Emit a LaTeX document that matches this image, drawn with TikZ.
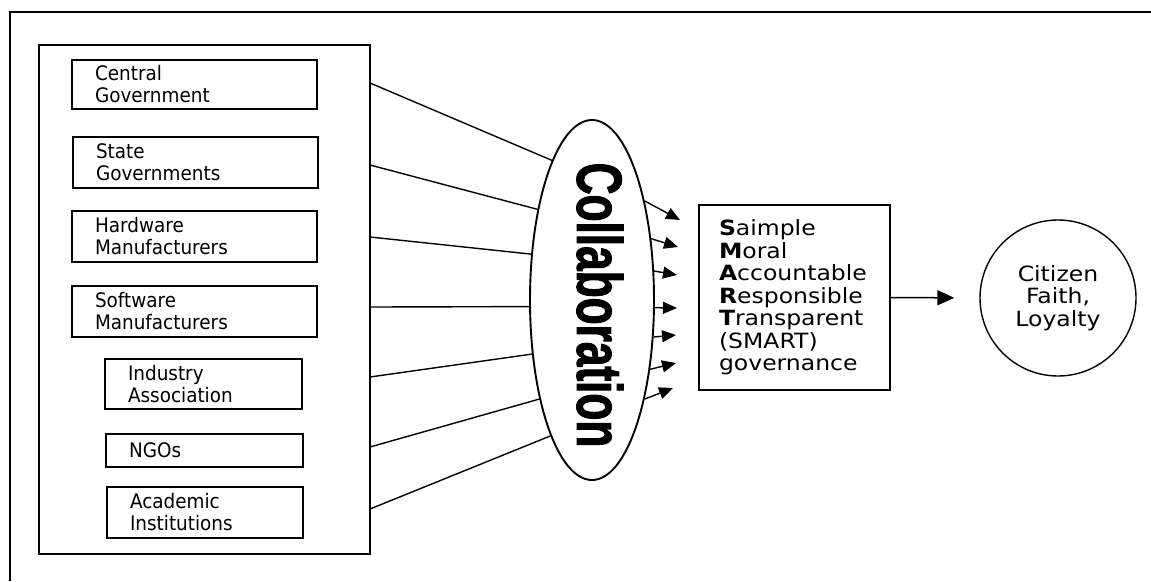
\documentclass[tikz,border=0pt]{standalone}
\usepackage{fontspec}
\usetikzlibrary{shapes.geometric,arrows.meta}
\newfontfamily\boxfont[FakeStretch=0.92]{DejaVu Sans}
\newfontfamily\smartfont[FakeStretch=1.12]{DejaVu Sans}
\newfontfamily\collabfont[FakeStretch=0.69,FakeBold=1.5]{Liberation Sans}
\begin{document}
\begin{tikzpicture}[x=1pt,y=-1pt,
  frameline/.style={line width=1.5pt},
  actor/.style={draw, line width=1.4pt, rectangle, inner xsep=23pt, inner ysep=0pt,
    align=left, font=\boxfont\fontsize{20}{22}\selectfont},
  link/.style={line width=1.4pt},
  smallarrow/.style={line width=1.4pt, -{Triangle[length=14pt,width=12pt]}},
  bigarrow/.style={line width=1.5pt, -{Triangle[length=17pt,width=15pt]}},
  smarttext/.style={font=\smartfont\fontsize{21}{22.5}\selectfont}
]
\useasboundingbox (0,0) rectangle (1151,581);
% outer frame (top and left)
\draw[frameline] (1151,12) -- (10,12) -- (10,581);
% panel
\node[draw, line width=1.5pt, minimum width=331pt, minimum height=509pt, inner sep=0pt] (panel) at (204.5,299.5) {};
\node[actor, minimum height=49pt, text width=199pt] (b1) at (194.5,84.5) {Central\\Government};
\node[actor, minimum height=51pt, text width=199pt] (b2) at (195.5,162.5) {State\\Governments};
\node[actor, minimum height=51pt, text width=199pt] (b3) at (194.5,236.5) {Hardware\\Manufacturers};
\node[actor, minimum height=51pt, text width=199pt] (b4) at (194.5,311.5) {Software\\Manufacturers};
\node[actor, minimum height=50pt, text width=151pt] (b5) at (203.5,384) {Industry\\Association};
\node[actor, minimum height=33pt, text width=151pt] (b6) at (204.5,450.5) {NGOs};
\node[actor, minimum height=51pt, text width=150pt] (b7) at (205,512.5) {Academic\\Institutions};
% collaboration ellipse
\node[ellipse, draw, line width=1.9pt, minimum width=124pt, minimum height=360pt, inner sep=0pt] (collab) at (592,300) {};
\node[rotate=-90, inner sep=0pt, font=\collabfont\bfseries\fontsize{64}{64}\selectfont] (collabtext) at (600,305) {Collaboration};
% start points on panel edge
\coordinate (s1) at (370,83);
\coordinate (s2) at (370,165);
\coordinate (s3) at (370,237);
\coordinate (s4) at (370,307);
\coordinate (s5) at (370,377);
\coordinate (s6) at (370,447);
\coordinate (s7) at (370,509);
\draw[link] (s1) -- (collab.106.3);
\draw[link] (s2) -- (collab.121);
\draw[link] (s3) -- (collab.143.9);
\draw[link] (s4) -- (collab.186.6);
\draw[link] (s5) -- (collab.222.5);
\draw[link] (s6) -- (collab.242.5);
\draw[link] (s7) -- (collab.253);
% arrow tips
\coordinate (t1) at (680,220);
\coordinate (t2) at (678,247);
\coordinate (t3) at (677,275);
\coordinate (t4) at (677,308);
\coordinate (t5) at (676,335);
\coordinate (t6) at (676,363);
\coordinate (t7) at (673,388);
\draw[smallarrow] (collab.62.2) -- (t1);
\draw[smallarrow] (collab.46.5) -- (t2);
\draw[smallarrow] (collab.25.4) -- (t3);
\draw[smallarrow] (collab.-7.6) -- (t4);
\draw[smallarrow] (collab.-31.4) -- (t5);
\draw[smallarrow] (collab.-50.9) -- (t6);
\draw[smallarrow] (collab.-62.7) -- (t7);
% SMART box
\node[draw, line width=1.4pt, smarttext, minimum height=185pt, inner xsep=20pt, inner ysep=0pt, text width=151pt, align=left] (smart) at (794.5,297.5)
  {\textbf{S}aimple\\\textbf{M}oral\\\textbf{A}ccountable\\\textbf{R}esponsible\\\textbf{T}ransparent\\(SMART)\\governance};
% citizen circle
\node[circle, draw, line width=1.4pt, minimum size=156pt, inner sep=0pt, align=center, smarttext] (cit) at (1058,298) {Citizen\\Faith,\\Loyalty};
\draw[bigarrow, shorten >=25pt] (smart.east) -- (cit.west);
\end{tikzpicture}
\end{document}
